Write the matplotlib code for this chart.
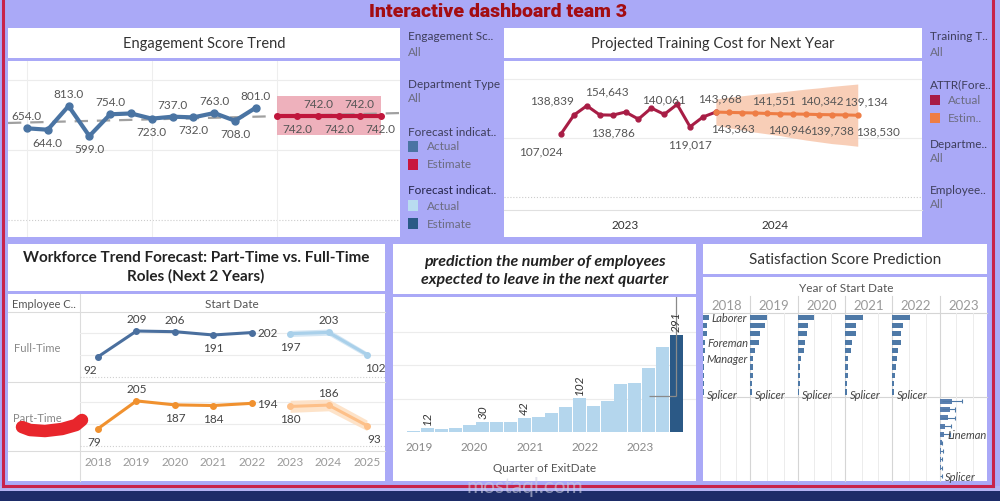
import matplotlib
matplotlib.use("Agg")
import matplotlib.pyplot as plt
from matplotlib.patches import Rectangle
from matplotlib.lines import Line2D

W, H = 1000, 502
plt.rcParams['font.family'] = ['Lato', 'DejaVu Sans']

# ---------------- data ----------------
# Engagement Score Trend
eng_actual = [654, 644, 813, 599, 754, 760, 723, 737, 732, 763, 708, 801]
eng_forecast = [742, 742, 742, 742, 742, 742]
eng_fc_low = [606, 606, 606, 606, 606, 606]
eng_fc_high = [884, 884, 884, 884, 884, 884]
eng_trend = [692, 763]
eng_label_pos = ['a', 'b', 'a', 'b', 'a', None, 'b', 'a', 'b', 'a', 'b', 'a',
                 None, 'b', 'a', 'b', 'a', 'b']

# Projected Training Cost (monthly)
cost_actual = [107024, 138839, 154643, 139200, 138786, 144000, 132000, 150800,
               140061, 157000, 119017, 135600]
cost_forecast = [143968, 143363, 142900, 142400, 141551, 140946, 140650, 140342,
                 139738, 139400, 139134, 138530]
cost_fc_high = [166000, 169000, 171500, 174000, 176000, 178000, 180500, 183000,
                185000, 187500, 189500, 191500]
cost_fc_low = [122000, 117500, 114000, 110000, 107000, 104000, 100000, 96500,
               93500, 90500, 88500, 86000]
cost_years = ['2023', '2024']

# Workforce trend
wf_years = [2018, 2019, 2020, 2021, 2022, 2023, 2024, 2025]
ft_actual = [92, 209, 206, 191, 202]
ft_forecast = [197, 203, 102]
ft_fc_high = [212, 218, 114]
ft_fc_low = [184, 190, 90]
pt_actual = [79, 205, 187, 184, 194]
pt_forecast = [180, 186, 93]
pt_fc_high = [208, 213, 118]
pt_fc_low = [153, 160, 70]

# Employees expected to leave (per quarter 2019Q1 .. 2023Q4)
leave_counts = [3, 12, 8, 13, 22, 30, 29, 31, 42, 44, 56, 74, 102, 77, 94,
                143, 146, 192, 256, 291]
leave_labeled = [1, 5, 8, 12, 19]
leave_years = ['2019', '2020', '2021', '2022', '2023']
leave_interval_low = 108

# Satisfaction score prediction
sat_years = ['2018', '2019', '2020', '2021', '2022', '2023']
sat_actual = {
    '2018': [3.6, 2.6, 2.6, 1.0, 1.0, 0.6, 0.6, 0.6, 0.4, 0.4],
    '2019': [10.1, 8.7, 5.6, 5.0, 3.0, 1.6, 1.4, 1.4, 1.2, 1.0],
    '2020': [9.7, 6.1, 5.6, 4.2, 3.6, 2.0, 1.6, 1.6, 1.2, 1.0],
    '2021': [10.9, 6.5, 6.5, 4.4, 3.5, 2.0, 1.8, 1.8, 1.2, 1.0],
    '2022': [10.9, 6.5, 5.5, 5.5, 3.5, 2.8, 2.4, 1.8, 1.0, 0.8],
}
sat_titles = ['Laborer', 'Lineman', 'Engineer', 'Foreman', 'Technician',
              'Manager', 'Supervisor', 'Electrician', 'Operator', 'Splicer']
sat_est = [7.5, 6.1, 5.0, 3.4, 2.4, 1.2, 1.0, 0.8, 0.6, 0.4]
sat_est_low = [1.5, 1.2, 1.0, 0.7, 0.5, 0.2, 0.2, 0.2, 0.1, 0.1]
sat_est_high = [13.5, 9.5, 9.5, 6.9, 6.1, 1.4, 2.0, 1.6, 1.4, 1.2]
sat_est_titles = ['Laborer', 'Foreman', 'Engineer', 'Manager', 'Lineman',
                  'Technician', 'Supervisor', 'Electrician', 'Operator', 'Splicer']

# ---------------- helpers ----------------
BG = '#aaa9f7'
fig = plt.figure(figsize=(W / 100, H / 100), dpi=100, facecolor=BG)


def add_ax(x0, y0, x1, y1):
    ax = fig.add_axes([x0 / W, 1 - y1 / H, (x1 - x0) / W, (y1 - y0) / H])
    ax.set_facecolor('none')
    for s in ax.spines.values():
        s.set_visible(False)
    ax.tick_params(length=0)
    ax.set_xticks([])
    ax.set_yticks([])
    return ax


def rect(x0, y0, x1, y1, color, z=-5):
    fig.patches.append(Rectangle((x0 / W, 1 - y1 / H), (x1 - x0) / W, (y1 - y0) / H,
                                 transform=fig.transFigure, facecolor=color,
                                 edgecolor='none', zorder=z))


def line(x0, y0, x1, y1, color='#d9d9d9', lw=0.8, z=-4, **kw):
    fig.lines.append(Line2D([x0 / W, x1 / W], [1 - y0 / H, 1 - y1 / H],
                            transform=fig.transFigure, color=color, lw=lw, zorder=z, **kw))


def txt(x, y, s, **kw):
    kw.setdefault('va', 'center')
    fig.text(x / W, 1 - y / H, s, **kw)


# ---------------- frame ----------------
rect(0, 491, 1000, 502, '#1d2c68', z=-6)
rect(0, 487, 1000, 492, '#b3b3f2', z=-6)
line(2.5, 0, 2.5, 487, color='#c8234a', lw=2.2, z=1)
line(993, 0, 993, 487, color='#c8234a', lw=2.2, z=1)
line(2.5, 487, 993, 487, color='#c8234a', lw=2.2, z=1)

txt(498, 12, 'Interactive dashboard team 3', ha='center', fontsize=14,
    fontweight='black', color='#a30d12', family=['Roboto', 'DejaVu Sans'])

TXT = '#555555'
HDR = '#3e3e5c'
LEG = 8.5

# ---------------- Engagement Score Trend ----------------
rect(8, 29, 400, 59, 'white')
rect(8, 62, 400, 238, 'white')
txt(204, 44, 'Engagement Score Trend', ha='center', fontsize=10.5, color='#333333')
ax = add_ax(8, 62, 400, 238)
ax.set_xlim(-0.91, 17.93)
ax.set_ylim(-121, 1134)
for v in (500, 1000):
    ax.axhline(v, color='#ececec', lw=0.8, zorder=0)
ax.axhline(0, color='#cccccc', lw=0.8, ls=':', zorder=0)
for v in (0, 6, 12):
    ax.axvline(v, color='#eeeeee', lw=0.8, zorder=0)
xa = list(range(len(eng_actual)))
xf = list(range(len(eng_actual), len(eng_actual) + len(eng_forecast)))
ax.fill_between(xf, eng_fc_low, eng_fc_high, color='#eba4b1', alpha=0.85, lw=0, zorder=1)
ax.plot(ax.get_xlim(), eng_trend, color='#a0a0a0', lw=1.6, ls=(0, (6, 4)), zorder=2)
ax.plot(xa, eng_actual, color='#4a74a3', lw=3, marker='o', ms=5, zorder=3)
ax.plot(xf, eng_forecast, color='#c0163c', lw=3, marker='o', ms=4, zorder=3)
allv = eng_actual + eng_forecast
for i, (v, p) in enumerate(zip(allv, eng_label_pos)):
    if p is None:
        continue
    dy = 9 if p == 'a' else -9
    ax.annotate(f'{v:.1f}', (i, v), xytext=(0, dy), textcoords='offset points',
                ha='center', va='center', fontsize=8.5, color=TXT, zorder=4)

# legend (engagement)
txt(408, 37, 'Engagement Sc..', fontsize=LEG, color=HDR)
txt(408, 52, 'All', fontsize=LEG, color='#6c6c80')
txt(408, 84, 'Department Type', fontsize=LEG, color=HDR)
txt(408, 99, 'All', fontsize=LEG, color='#6c6c80')
txt(408, 132, 'Forecast indicat..', fontsize=LEG, color=HDR)
rect(408, 142, 418, 153, '#4a74a3', z=1)
txt(427, 147, 'Actual', fontsize=LEG, color='#6c6c80')
rect(408, 160, 418, 171, '#c8173f', z=1)
txt(427, 165, 'Estimate', fontsize=LEG, color='#6c6c80')
txt(408, 191, 'Forecast indicat..', fontsize=LEG, color='#25254a')
rect(408, 201, 418, 212, '#b9dcf0', z=1)
txt(427, 207, 'Actual', fontsize=LEG, color='#6c6c80')
rect(408, 219, 418, 230, '#2a5a87', z=1)
txt(427, 225, 'Estimate', fontsize=LEG, color='#6c6c80')

# ---------------- Projected Training Cost ----------------
rect(504, 29, 922, 59, 'white')
rect(504, 62, 922, 238, 'white')
txt(713, 44, 'Projected Training Cost for Next Year', ha='center', fontsize=10.5,
    color='#333333')
ax = add_ax(504, 62, 922, 211)
ax.set_xlim(-4.42, 27.98)
ax.set_ylim(-22035, 230520)
for v in (100000, 200000):
    ax.axhline(v, color='#ececec', lw=0.8, zorder=0)
ax.axhline(0, color='#cccccc', lw=0.8, ls=':', zorder=0)
line(504, 211, 922, 211, color='#e0e0e0', lw=0.8, z=1)
ca = list(range(len(cost_actual)))
cf = list(range(len(cost_actual), len(cost_actual) + len(cost_forecast)))
ax.fill_between(cf, cost_fc_low, cost_fc_high, color='#f8c9b0', alpha=0.9, lw=0, zorder=1)
ax.plot(ca + [cf[0]], cost_actual + [cost_forecast[0]], color='#a81d45', lw=2.2,
        marker='o', ms=3.5, zorder=3)
ax.plot(cf, cost_forecast, color='#ee7d45', lw=2.2, marker='o', ms=3.5, zorder=3)
act_labels = {0: ('b', -20), 1: ('a', -22), 2: ('a', 20), 4: ('b', 0), 8: ('a', 0),
              10: ('b', 0)}
for i, (p, dx) in act_labels.items():
    v = cost_actual[i]
    dy = 11 if p == 'a' else -12
    ax.annotate(f'{v:,}', (i, v), xytext=(dx * 0.72, dy), textcoords='offset points',
                ha='center', va='center', fontsize=8.5, color=TXT, zorder=4)
fc_labels = {0: ('a', 4), 1: ('b', 4), 4: ('a', 6), 5: ('b', 10), 7: ('a', 16),
             8: ('b', 13), 10: ('a', 21), 11: ('b', 20)}
for i, (p, dx) in fc_labels.items():
    v = cost_forecast[i]
    dy = 10 if p == 'a' else -11
    ax.annotate(f'{v:,}', (cf[i], v), xytext=(dx * 0.72, dy), textcoords='offset points',
                ha='center', va='center', fontsize=8.5, color=TXT, zorder=4)
for lbl, xpos in zip(cost_years, (5.0, 16.6)):
    ax.text(xpos, -0.094, lbl, transform=ax.get_xaxis_transform(), ha='center',
            va='center', fontsize=8.5, color='#333333')

# legend (training)
txt(930, 37, 'Training T..', fontsize=LEG, color=HDR)
txt(930, 52, 'All', fontsize=LEG, color='#6c6c80')
txt(930, 85, 'ATTR(Fore..', fontsize=LEG, color=HDR)
rect(930, 96, 940, 106, '#a81d45', z=1)
txt(948, 101, 'Actual', fontsize=LEG, color='#6c6c80')
rect(930, 114, 940, 124, '#ee7d45', z=1)
txt(948, 119, 'Estim..', fontsize=LEG, color='#6c6c80')
txt(930, 145, 'Departme..', fontsize=LEG, color=HDR)
txt(930, 159, 'All', fontsize=LEG, color='#6c6c80')
txt(930, 191, 'Employee..', fontsize=LEG, color=HDR)
txt(930, 205, 'All', fontsize=LEG, color='#6c6c80')

# ---------------- Workforce Trend Forecast ----------------
rect(8, 245, 385, 292, 'white')
rect(8, 295, 385, 482, 'white')
txt(196, 258, 'Workforce Trend Forecast: Part-Time vs. Full-Time', ha='center',
    fontsize=11, fontweight='bold', color='#222222')
txt(196, 276, 'Roles (Next 2 Years)', ha='center', fontsize=11, fontweight='bold',
    color='#222222')
txt(12, 305, 'Employee C..', fontsize=8, color='#555555')
txt(232, 305, 'Start Date', ha='center', fontsize=8.5, color='#555555')
txt(37, 348, 'Full-Time', ha='center', fontsize=8, color='#888888')
txt(37, 418, 'Part-Time', ha='center', fontsize=8, color='#888888')
for yy in (313, 383, 452):
    line(8, yy, 385, yy, color='#dcdcdc')
line(80, 295, 80, 482, color='#dcdcdc')

wa = wf_years[:len(ft_actual)]
wfc = wf_years[len(ft_actual):]
specs = [
    (313, 383, (-22.7, 295.5), ft_actual, ft_forecast, ft_fc_low, ft_fc_high,
     '#4a6f9e', '#a9d0ea', '#cfe4f3',
     [('b', -6), ('a', 0), ('a', 0), ('b', 0), ('r', 0)], [('b', 0), ('a', 0), ('b', 6)]),
    (383, 452, (-22.7, 291.0), pt_actual, pt_forecast, pt_fc_low, pt_fc_high,
     '#f0912f', '#fdc089', '#fde0c4',
     [('b', -3), ('a', 0), ('b', 0), ('b', 0), ('r', 0)], [('b', 0), ('a', 0), ('b', 5)]),
]
wf_axes = []
for (y0, y1, yl, act, fc, lo, hi, c1, c2, c3, lab_a, lab_f) in specs:
    ax = add_ax(80, y0, 385, y1)
    ax.set_xlim(2017.53, 2025.47)
    ax.set_ylim(*yl)
    for v in (100, 200):
        ax.axhline(v, color='#ececec', lw=0.8, zorder=0)
    ax.axhline(0, color='#d0d0d0', lw=0.8, ls=':', zorder=0)
    ax.fill_between(wfc, lo, hi, color=c3, alpha=0.9, lw=0, zorder=1)
    ax.plot(wa, act, color=c1, lw=2.2, marker='o', ms=4, zorder=3)
    ax.plot(wfc, fc, color=c2, lw=2.2, marker='o', ms=4, zorder=3)
    for xs, vs, labs in ((wa, act, lab_a), (wfc, fc, lab_f)):
        for x, v, (p, dx) in zip(xs, vs, labs):
            if p == 'r':
                ax.annotate(str(v), (x, v), xytext=(4, 0), textcoords='offset points',
                            ha='left', va='center', fontsize=8.5, color='#444444')
            else:
                dy = 9 if p == 'a' else -9
                ax.annotate(str(v), (x, v), xytext=(dx, dy), textcoords='offset points',
                            ha='center', va='center', fontsize=8.5, color='#444444')
    wf_axes.append(ax)
for yv in wf_years:
    wf_axes[1].text(yv, -0.145, str(yv), transform=wf_axes[1].get_xaxis_transform(),
                    ha='center', va='center', fontsize=8.5, color='#999999')

# red marker stroke
fig.lines.append(Line2D([22 / W, 30 / W, 45 / W, 62 / W, 76 / W, 82 / W],
                        [1 - 428 / H, 1 - 431 / H, 1 - 432 / H, 1 - 430 / H,
                         1 - 426 / H, 1 - 421 / H],
                        transform=fig.transFigure, color='#e8262c', lw=9,
                        solid_capstyle='round', solid_joinstyle='round', zorder=10))

# ---------------- Employees expected to leave ----------------
rect(393, 245, 696, 295, 'white')
rect(393, 298, 696, 482, 'white')
txt(545, 262, 'prediction the number of employees', ha='center', fontsize=11.5,
    fontweight='bold', style='italic', color='#222222')
txt(545, 280, 'expected to leave in the next quarter', ha='center', fontsize=11.5,
    fontweight='bold', style='italic', color='#222222')
ax = add_ax(393, 298, 696, 433)
ax.set_xlim(-1.51, 20.44)
ax.set_ylim(0, 405)
for v in (100, 200, 300):
    ax.axhline(v, color='#ececec', lw=0.8, zorder=0)
xs = list(range(len(leave_counts)))
colors = ['#b4d6ed'] * (len(leave_counts) - 1) + ['#2b5986']
ax.bar(xs, leave_counts, width=0.95, color=colors, zorder=2)
last = xs[-1]
ax.vlines(last, leave_interval_low, 420, color='#8a8a8a', lw=0.9, zorder=3, clip_on=True)
ax.hlines(leave_interval_low, last - 2, last, color='#8a8a8a', lw=0.9, zorder=3)
for i in leave_labeled:
    ax.annotate(str(leave_counts[i]), (xs[i], leave_counts[i]), xytext=(0, 3),
                textcoords='offset points', rotation=90, ha='center', va='bottom',
                fontsize=8.5, style='italic', color='#333333', zorder=4)
for k, lbl in enumerate(leave_years):
    ax.text(4 * k + 0.4, -0.104, lbl, transform=ax.get_xaxis_transform(), ha='center',
            va='center', fontsize=8.5, color='#888888')
txt(545, 469, 'Quarter of ExitDate', ha='center', fontsize=8.5, color='#555555')
txt(525, 487, 'mostaql.com', ha='center', fontsize=15, color='#cfcfe0', alpha=0.6)

# ---------------- Satisfaction Score Prediction ----------------
rect(703, 245, 987, 275, 'white')
rect(703, 278, 987, 482, 'white')
txt(845, 260, 'Satisfaction Score Prediction', ha='center', fontsize=11, color='#333333')
txt(846, 288, 'Year of Start Date', ha='center', fontsize=8.5, color='#555555')
col_w = (987 - 703) / len(sat_years)
line(703, 314, 987, 314, color='#d5d5d5')
line(703, 398, 987, 398, color='#d5d5d5')
for c in range(1, len(sat_years)):
    xx = 703 + c * col_w
    line(xx, 297, xx, 482, color='#d5d5d5')
for c, yr in enumerate(sat_years):
    x0 = 703 + c * col_w
    txt(x0 + col_w / 2, 306, yr, ha='center', fontsize=9.5, color='#9a9a9a')
    for r, (y0, y1) in enumerate(((314, 398), (398, 482))):
        ax = add_ax(x0, y0, x0 + col_w, y1)
        ax.set_xlim(0, 28.5)
        ax.set_ylim(9.6, -0.5)
        for v in (10, 20):
            ax.axvline(v, color='#ececec', lw=0.7, zorder=0)
        pos = list(range(len(sat_titles)))
        if r == 0 and yr in sat_actual:
            vals = sat_actual[yr]
            ax.barh(pos, vals, height=0.62, color='#4e79a7', zorder=2)
            show = ['Laborer', 'Foreman', 'Manager', 'Splicer'] if c == 0 else ['Splicer']
            for p, (t, v) in enumerate(zip(sat_titles, vals)):
                if t in show:
                    dy = -2 if t == 'Splicer' else 0
                    ax.annotate(t, (v, p), xytext=(2, dy), textcoords='offset points',
                                ha='left', va='center', fontsize=8, style='italic',
                                color='#444444', annotation_clip=False, zorder=5)
        if r == 1 and yr == '2023':
            ax.barh(pos, sat_est, height=0.62, color='#5b80b0', zorder=2)
            for p, (lo, hi) in enumerate(zip(sat_est_low, sat_est_high)):
                ax.hlines(p, lo, hi, color='#4e79a7', lw=0.8, zorder=3)
                ax.vlines(hi, p - 0.25, p + 0.25, color='#4e79a7', lw=0.8, zorder=3)
            for p, (t, v) in enumerate(zip(sat_est_titles, sat_est_high)):
                if t in ('Lineman', 'Splicer'):
                    ax.annotate(t, (sat_est[p], p), xytext=(3, 0), textcoords='offset points',
                                ha='left', va='center', fontsize=8, style='italic',
                                color='#444444', annotation_clip=False, zorder=4)

fig.savefig('out.png', dpi=100, facecolor=BG)
